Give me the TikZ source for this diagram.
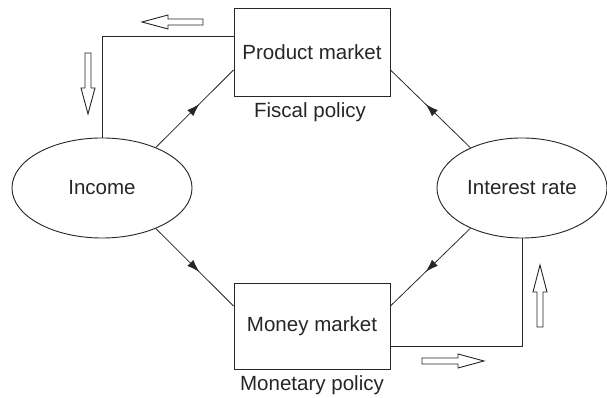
\documentclass[tikz,border=0pt]{standalone}
\usepackage{fontspec}
\setmainfont{Liberation Sans}
\usetikzlibrary{shapes.geometric,arrows.meta,decorations.markings}

\begin{document}
\begin{tikzpicture}[x=0.025cm, y=-0.025cm,
    every node/.style={font=\fontsize{14.6}{17}\selectfont, text=black!85},
    market/.style={draw=black!85, line width=0.65pt, minimum width=3.9cm, minimum height=2.2cm},
    oval/.style={ellipse, draw=black!85, line width=0.65pt, minimum height=2.5cm},
    link/.style={draw=black!85, line width=0.55pt, postaction={decorate},
      decoration={markings, mark=at position 0.56 with {\arrow{Latex[length=9pt,width=6pt]}}}},
    feedback/.style={draw=black!85, line width=0.65pt},
    hollow/.style={draw=black!85, line width=0.65pt}]
  \useasboundingbox (0,0) rectangle (607,398);

  \node[market] (pm) at (312,52) {Product market};
  \node[market, minimum height=2.15cm] (mm) at (312,326) {Money market};
  \node[oval, minimum width=4.5cm] (inc) at (102,188) {Income};
  \node[oval, minimum width=4.25cm] (ir) at (522,188) {Interest rate};

  \node (fiscal) at (310,112) {Fiscal policy};
  \node (monetary) at (312,385) {Monetary policy};

  \draw[link] (inc.37) -- ([yshift=-0.45cm]pm.west);
  \draw[link] (inc.-37) -- ([yshift=0.5cm]mm.west);
  \draw[link] (ir.142) -- ([yshift=-0.45cm]pm.east);
  \draw[link] (ir.-142) -- ([yshift=0.5cm]mm.east);

  \draw[feedback] ([yshift=0.4cm]pm.west) -| (inc.north);
  \draw[feedback] ([yshift=-0.5cm]mm.east) -| (ir.south);

  % hollow arrows
  \draw[hollow] (142,22) -- ++(26,-7) -- ++(0,4) -- ++(35,0) -- ++(0,6) -- ++(-35,0) -- ++(0,4) -- cycle;
  \draw[hollow] (88,114) -- ++(-7,-26) -- ++(4,0) -- ++(0,-35) -- ++(6,0) -- ++(0,35) -- ++(4,0) -- cycle;
  \draw[hollow] (484,361) -- ++(-26,-7) -- ++(0,4) -- ++(-36,0) -- ++(0,6) -- ++(36,0) -- ++(0,4) -- cycle;
  \draw[hollow] (540,265) -- ++(-7,27) -- ++(4,0) -- ++(0,35) -- ++(6,0) -- ++(0,-35) -- ++(4,0) -- cycle;
\end{tikzpicture}
\end{document}
